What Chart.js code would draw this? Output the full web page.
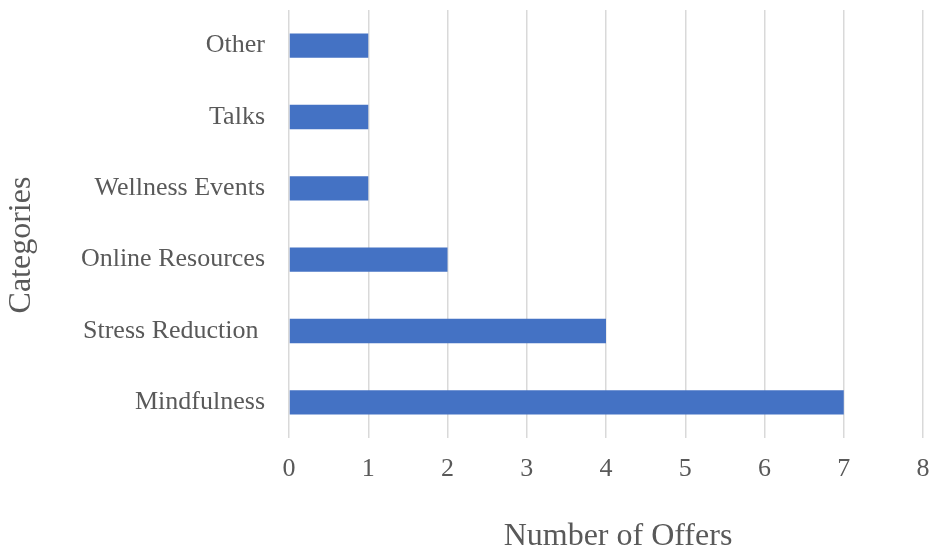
<!DOCTYPE html>
<html lang="en">
  <head>
    <meta charset="UTF-8" />
    <title>Number of Offers by Category</title>
    <script src="https://cdn.jsdelivr.net/npm/chart.js@4.4.1/dist/chart.umd.min.js"></script>
    <style>
      html, body { margin: 0; padding: 0; background: #fff; }
      #wrap { width: 929px; height: 552px; }
    </style>
  </head>
  <body>
    <div id="wrap"><canvas id="chart" width="929" height="552"></canvas></div>
    <script>
      // categories listed top to bottom
      const categories = ['Other', 'Talks', 'Wellness Events', 'Online Resources', 'Stress Reduction ', 'Mindfulness']
      const offers = [1, 1, 1, 2, 4, 7]
      const xTicks = [0, 1, 2, 3, 4, 5, 6, 7, 8]

      const serif = "'Liberation Serif', 'Times New Roman', serif"
      const grey = '#595959'

      // axis titles sit a little off the plot centre, so draw them by hand
      const axisTitles = {
        id: 'axisTitles',
        afterDraw(chart) {
          const { ctx, chartArea } = chart
          ctx.save()
          ctx.fillStyle = grey
          ctx.font = '32px ' + serif
          ctx.textAlign = 'center'
          ctx.textBaseline = 'middle'
          ctx.fillText('Number of Offers', chartArea.left + 329, chartArea.bottom + 99)
          ctx.translate(22, chartArea.top + 235)
          ctx.rotate(-Math.PI / 2)
          ctx.fillText('Categories', 0, 0)
          ctx.restore()
        },
      }

      // keep the plot box fixed: no extra room reserved for edge labels
      function noPadding(scale) {
        scale.paddingLeft = 0
        scale.paddingRight = 0
        scale.paddingTop = 0
        scale.paddingBottom = 0
      }

      const ctx = document.getElementById('chart').getContext('2d')
      new Chart(ctx, {
        type: 'bar',
        data: {
          labels: categories,
          datasets: [
            {
              label: 'Number of Offers',
              data: offers,
              backgroundColor: '#4472C4',
              borderWidth: 0,
              categoryPercentage: 1,
              barPercentage: 0.34,
            },
          ],
        },
        options: {
          indexAxis: 'y',
          responsive: false,
          animation: false,
          layout: { padding: { top: 10, right: 6, left: 0, bottom: 0 } },
          plugins: { legend: { display: false }, tooltip: { enabled: false } },
          scales: {
            x: {
              min: 0,
              max: 8,
              afterBuildTicks(scale) {
                scale.ticks = xTicks.map((v) => ({ value: v }))
              },
              afterFit(scale) {
                scale.height = 114
                noPadding(scale)
              },
              grid: { color: '#d9d9d9', lineWidth: 1.5, drawTicks: false },
              border: { display: false },
              ticks: { color: grey, padding: 16, maxRotation: 0, font: { family: serif, size: 26 } },
            },
            y: {
              afterFit(scale) {
                scale.width = 289
                noPadding(scale)
              },
              grid: { display: false, drawTicks: false },
              border: { display: false },
              ticks: { color: grey, padding: 24, font: { family: serif, size: 26 } },
            },
          },
        },
        plugins: [axisTitles],
      })
    </script>
  </body>
</html>
